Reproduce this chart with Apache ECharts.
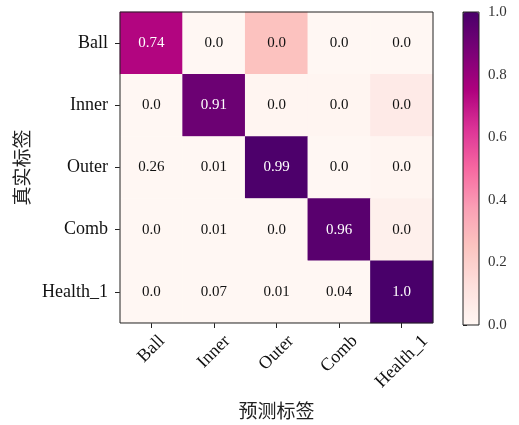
<!DOCTYPE html>
<html>
<head>
<meta charset="utf-8">
<script src="https://cdn.jsdelivr.net/npm/echarts@6/dist/echarts.min.js"></script>
<style>
  html, body { margin: 0; padding: 0; background: #fff; }
  #chart { width: 519px; height: 425px; }
</style>
</head>
<body>
<div id="chart"></div>
<script>
// class names (same for true and predicted)
const classes = ['Ball', 'Inner', 'Outer', 'Comb', 'Health_1'];

// numbers printed in the cells, row = true label, column = predicted label
const cellText = [
  [0.74, 0.0, 0.0, 0.0, 0.0],
  [0.0, 0.91, 0.0, 0.0, 0.0],
  [0.26, 0.01, 0.99, 0.0, 0.0],
  [0.0, 0.01, 0.0, 0.96, 0.0],
  [0.0, 0.07, 0.01, 0.04, 1.0]
];

// values that drive the cell colours (as drawn in the picture)
const cellColor = [
  [0.74, 0.0, 0.26, 0.0, 0.0],
  [0.0, 0.91, 0.01, 0.01, 0.07],
  [0.0, 0.0, 0.99, 0.0, 0.01],
  [0.0, 0.0, 0.0, 0.96, 0.04],
  [0.0, 0.0, 0.0, 0.0, 1.0]
];

// colour bar ticks
const barMin = 0, barMax = 1, barStep = 0.2;

// RdPu colormap
const rdpu = ['#fff7f3', '#fde0dd', '#fcc5c0', '#fa9fb5', '#f768a1', '#dd3497', '#ae017e', '#7a0177', '#49006a'];

const serif = '"Liberation Serif", "Times New Roman", serif';
const cjk = '"Noto Sans CJK SC", sans-serif';
const xLabelSize = 18;

const data = [];
cellColor.forEach((row, i) => {
  row.forEach((v, j) => {
    data.push({
      value: [j, i, v],
      label: { color: v > 0.5 ? '#fff' : '#111' },
      txt: cellText[i][j]
    });
  });
});

// x labels are rotated 45deg and centred under the tick (matplotlib style):
// push each label down by an amount that depends on its width
const ctx = document.createElement('canvas').getContext('2d');
ctx.font = xLabelSize + 'px "Liberation Serif"';
const xRich = {};
classes.forEach((c, i) => {
  const w = ctx.measureText(c).width;
  const d = 9 + (w + xLabelSize) / (2 * Math.SQRT2);
  const p = Math.SQRT2 * d;
  xRich['l' + i] = {
    fontFamily: serif, fontSize: xLabelSize, color: '#111',
    padding: [p, p, 0, 0]
  };
});

const chart = echarts.init(document.getElementById('chart'));
chart.setOption({
  animation: false,
  backgroundColor: '#fff',
  grid: [
    { left: 120, top: 12, width: 313, height: 313, show: true, z: 5,
      borderColor: '#222', borderWidth: 1, backgroundColor: 'transparent' },
    { left: 463, top: 12, width: 16, height: 313, show: true, z: 5,
      borderColor: '#222', borderWidth: 1, backgroundColor: 'transparent' }
  ],
  xAxis: [
    {
      type: 'category', gridIndex: 0, data: classes,
      name: '预测标签', nameLocation: 'middle', nameGap: 78,
      nameTextStyle: { fontFamily: cjk, fontSize: 19, color: '#222' },
      axisLine: { show: false },
      axisTick: { show: true, alignWithLabel: true, length: 5, lineStyle: { color: '#222' } },
      axisLabel: {
        rotate: 45, margin: 0, interval: 0, align: 'center', verticalAlign: 'middle',
        hideOverlap: false,
        formatter: (v, i) => '{l' + i + '|' + v + '}',
        rich: xRich
      },
      splitLine: { show: false }
    },
    { type: 'value', gridIndex: 1, show: false, min: 0, max: 1 }
  ],
  yAxis: [
    {
      type: 'category', gridIndex: 0, data: classes, inverse: true,
      name: '真实标签', nameLocation: 'middle', nameGap: 88, nameRotate: 90,
      nameTextStyle: { fontFamily: cjk, fontSize: 19, color: '#222' },
      axisLine: { show: false },
      axisTick: { show: true, alignWithLabel: true, length: 5, lineStyle: { color: '#222' } },
      axisLabel: { margin: 12, fontFamily: serif, fontSize: 18, color: '#111' },
      splitLine: { show: false }
    },
    {
      type: 'value', gridIndex: 1, position: 'right',
      min: barMin, max: barMax, interval: barStep,
      axisLine: { show: false },
      axisTick: { show: true, length: 4, lineStyle: { color: '#222' } },
      axisLabel: { margin: 9, fontFamily: serif, fontSize: 15, color: '#333',
        formatter: v => v.toFixed(1) },
      splitLine: { show: false }
    }
  ],
  visualMap: {
    type: 'continuous',
    min: barMin, max: barMax,
    seriesIndex: 0,
    orient: 'vertical',
    left: 463, top: 12,
    itemWidth: 16, itemHeight: 313,
    padding: 0,
    calculable: false,
    text: null,
    showLabel: false,
    handleStyle: { opacity: 0 },
    indicatorStyle: { opacity: 0 },
    inRange: { color: rdpu }
  },
  series: [{
    type: 'heatmap',
    xAxisIndex: 0, yAxisIndex: 0,
    data: data,
    label: {
      show: true,
      fontFamily: serif,
      fontSize: 15,
      formatter: p => p.data.txt.toFixed(2).replace(/0$/, '').replace(/\.$/, '.0')
    },
    itemStyle: { borderWidth: 0 },
    emphasis: { disabled: true }
  }]
});
</script>
</body>
</html>
